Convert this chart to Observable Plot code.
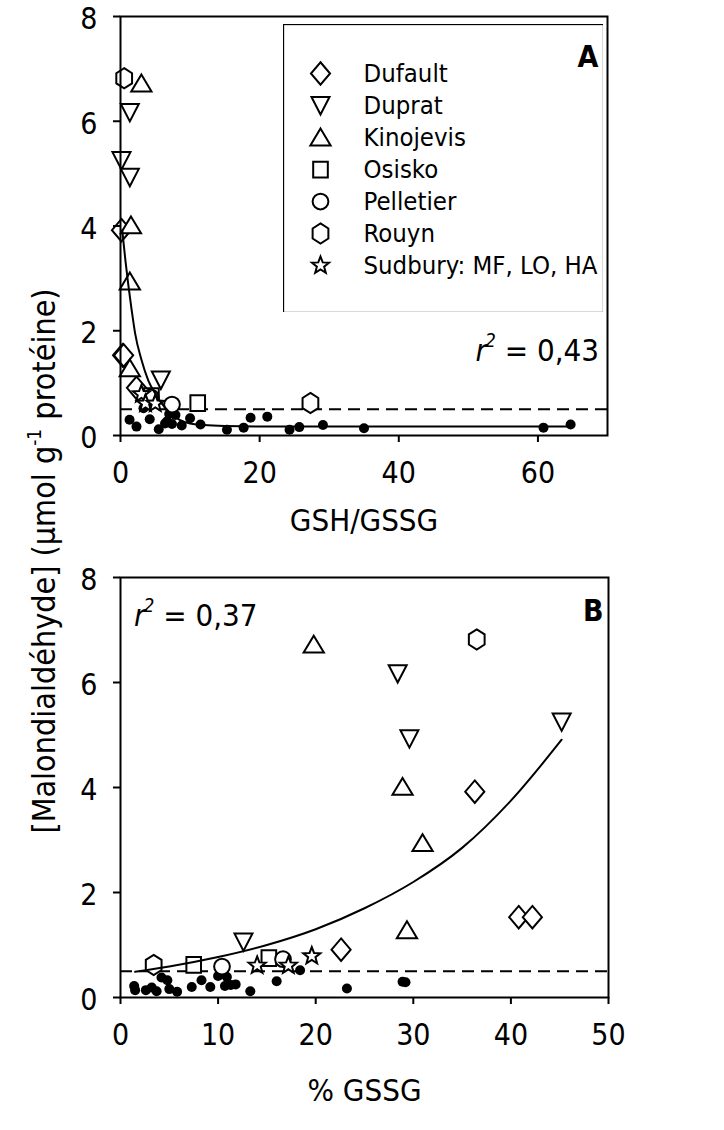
<!DOCTYPE html>
<html><head><meta charset="utf-8">
<script src="https://cdn.jsdelivr.net/npm/d3@7"></script>
<script src="https://cdn.jsdelivr.net/npm/@observablehq/plot@0.6"></script>
<style>
body{margin:0;background:#fff}
#root{position:relative;width:724px;height:1130px;overflow:hidden}
#root > svg{position:absolute}
</style>
</head><body><div id="root"></div>
<script>
// ---------- data ----------
const SITES = ["Dufault","Duprat","Kinojevis","Osisko","Pelletier","Rouyn","Sudbury: MF, LO, HA"];

// MDA (µmol g-1 protéine), GSH/GSSG ratio and % GSSG for each sample of each site
const DUFAULT_MDA   = [3.92, 1.53, 1.53, 0.91];
const DUFAULT_GSH   = [0.14, 0.30, 0.45, 2.3];
const DUFAULT_PCT   = [36.3, 40.8, 42.2, 22.6];

const DUPRAT_MDA    = [6.17, 5.25, 4.93, 1.06];
const DUPRAT_GSH    = [1.34, 0.14, 1.34, 5.8];
const DUPRAT_PCT    = [28.4, 45.2, 29.6, 12.6];

const KINOJEVIS_MDA = [6.72, 4.01, 2.94, 1.28];
const KINOJEVIS_GSH = [3.0, 1.5, 1.34, 1.34];
const KINOJEVIS_PCT = [19.8, 28.9, 30.95, 29.35];

const OSISKO_MDA    = [0.62, 0.75];
const OSISKO_GSH    = [11.1, 4.45];
const OSISKO_PCT    = [7.5, 15.2];

const PELLETIER_MDA = [0.59, 0.73];
const PELLETIER_GSH = [7.4, 4.35];
const PELLETIER_PCT = [10.4, 16.65];

const ROUYN_MDA     = [6.82, 0.62];
const ROUYN_GSH     = [0.53, 27.3];
const ROUYN_PCT     = [36.5, 3.4];

const SUDBURY_MDA   = [0.79, 0.61, 0.61];
const SUDBURY_GSH   = [3.0, 3.6, 5.0];
const SUDBURY_PCT   = [19.6, 14.0, 17.2];

// reference (filled) samples
const REF_A_X = [1.3, 2.3, 3.3, 4.2, 5.5, 6.4, 6.7, 7.0, 7.4, 7.9, 8.8, 10.0, 11.5, 15.3, 17.7, 18.7, 21.1, 24.3, 25.7, 29.1, 35.0, 60.8, 64.7];
const REF_A_Y = [0.30, 0.17, 0.52, 0.31, 0.12, 0.23, 0.27, 0.41, 0.22, 0.39, 0.19, 0.33, 0.21, 0.11, 0.15, 0.34, 0.36, 0.11, 0.16, 0.20, 0.14, 0.15, 0.21];
const REF_B_X = [1.4, 1.5, 2.6, 3.2, 3.7, 4.2, 4.8, 5.0, 5.8, 7.3, 8.3, 9.2, 10.0, 10.7, 10.9, 11.3, 11.8, 13.3, 16.0, 18.4, 23.2, 28.9, 29.2];
const REF_B_Y = [0.22, 0.14, 0.14, 0.19, 0.12, 0.38, 0.33, 0.16, 0.11, 0.20, 0.33, 0.20, 0.41, 0.22, 0.39, 0.24, 0.25, 0.12, 0.31, 0.52, 0.17, 0.30, 0.29];

// fitted curves
const FIT_A_X = [0.25, 0.7, 1.1, 1.6, 2.1, 3.0, 4.0, 5.0, 6.0, 7.0, 8.5, 10, 12, 15, 20, 30, 45, 64.7];
const FIT_A_Y = [3.92, 3.35, 2.9, 2.4, 1.95, 1.45, 1.05, 0.8, 0.6, 0.45, 0.3, 0.23, 0.2, 0.18, 0.17, 0.17, 0.17, 0.17];
const FIT_B_X = [1.5, 5, 10, 15, 20, 25, 30, 35, 40, 45.2];
const FIT_B_Y = [0.49, 0.59, 0.77, 1.0, 1.3, 1.7, 2.2, 2.85, 3.75, 4.91];

const THRESHOLD = [0.5];
const R2_A = "0,43", R2_B = "0,37";
const X_TICKS_A = [0, 20, 40, 60], X_TICKS_B = [0, 10, 20, 30, 40, 50], Y_TICKS = [0, 2, 4, 6, 8];

// ---------- build tables ----------
const MDA_L = [DUFAULT_MDA, DUPRAT_MDA, KINOJEVIS_MDA, OSISKO_MDA, PELLETIER_MDA, ROUYN_MDA, SUDBURY_MDA];
const GSH_L = [DUFAULT_GSH, DUPRAT_GSH, KINOJEVIS_GSH, OSISKO_GSH, PELLETIER_GSH, ROUYN_GSH, SUDBURY_GSH];
const PCT_L = [DUFAULT_PCT, DUPRAT_PCT, KINOJEVIS_PCT, OSISKO_PCT, PELLETIER_PCT, ROUYN_PCT, SUDBURY_PCT];
const rows = SITES.flatMap((site, i) => MDA_L[i].map((mda, j) => ({site, mda, gsh: GSH_L[i][j], pct: PCT_L[i][j]})));
const refA = REF_A_X.map((x, i) => ({x, y: REF_A_Y[i]}));
const refB = REF_B_X.map((x, i) => ({x, y: REF_B_Y[i]}));
const fitA = FIT_A_X.map((x, i) => ({x, y: FIT_A_Y[i]}));
const fitB = FIT_B_X.map((x, i) => ({x, y: FIT_B_Y[i]}));

// ---------- symbols ----------
function poly(pts) {
  return {draw(ctx, size) {
    const k = Math.sqrt(size / Math.PI) / 8;
    ctx.moveTo(pts[0][0] * k, pts[0][1] * k);
    for (let i = 1; i < pts.length; i++) ctx.lineTo(pts[i][0] * k, pts[i][1] * k);
    ctx.closePath();
  }};
}
const symDiamond = poly([[0,-10],[8.5,0],[0,10],[-8.5,0]]);
const symTriDown = poly([[-8,-7.5],[8,-7.5],[0,8]]);
const symTriUp   = poly([[0,-8],[9,7],[-9,7]]);
const symSquare  = poly([[-6.5,-7],[6.5,-7],[6.5,7],[-6.5,7]]);
const symCircle  = {draw(ctx, size) { const r = Math.sqrt(size / Math.PI) * 7 / 8; ctx.moveTo(r, 0); ctx.arc(0, 0, r, 0, 2 * Math.PI); ctx.closePath(); }};
const symHexagon = poly([[0,-9],[7,-4.5],[7,4.5],[0,9],[-7,4.5],[-7,-4.5]]);
const starPts = d3.range(10).map(i => { const a = -Math.PI / 2 + i * Math.PI / 5, r = i % 2 ? 3.4 : 8; return [r * Math.cos(a), r * Math.sin(a)]; });
const symStar = poly(starPts);
const SYMBOLS = [symDiamond, symTriDown, symTriUp, symSquare, symCircle, symHexagon, symStar];

const FONT = "'DejaVu Sans Condensed', 'DejaVu Sans', sans-serif";
const TICK_FS = 30;
const MARK_R = 9;

function siteDots(xKey) {
  return SITES.map((s, i) => Plot.dot(rows.filter(r => r.site === s), {
    x: xKey, y: "mda", symbol: SYMBOLS[i], r: MARK_R, fill: "white", stroke: "black", strokeWidth: 2
  }));
}

function panel({xDomain, xTicks, xKey, ref, fit, label, letter, letterDx, letterDy, top, height, mt, mb, mr, labelDy}) {
  const svg = Plot.plot({
    width: 724, height, marginLeft: 120, marginRight: mr, marginTop: mt, marginBottom: mb,
    style: {fontFamily: FONT, color: "black", background: "transparent", overflow: "visible"},
    x: {domain: xDomain}, y: {domain: [0, 8]},
    marks: [
      Plot.ruleY(THRESHOLD, {stroke: "black", strokeWidth: 2, strokeDasharray: "12,7"}),
      Plot.dot(ref, {x: "x", y: "y", r: 5, fill: "black"}),
      ...siteDots(xKey),
      Plot.line(fit, {x: "x", y: "y", curve: "monotone-x", stroke: "black", strokeWidth: 2}),
      Plot.frame({stroke: "black", strokeWidth: 2}),
      Plot.axisX({ticks: xTicks, tickSize: 7, tickPadding: 19, fontSize: TICK_FS, strokeWidth: 2, label: null}),
      // y ticks (lines only) and y tick labels (nudged slightly down, as in the reference)
      Plot.axisY({ticks: Y_TICKS, tickSize: 7, strokeWidth: 2, text: null, label: null}),
      Plot.axisY({ticks: Y_TICKS, tickSize: 0, tickPadding: 23, fontSize: TICK_FS, label: null, dy: 3}),
      Plot.text([label], {frameAnchor: "bottom", dy: labelDy, lineAnchor: "middle", fontSize: 31, fill: "black"}),
      Plot.text([letter], {frameAnchor: "top-right", dx: letterDx, dy: letterDy, lineAnchor: "top", textAnchor: "end", fontSize: 30, fontWeight: "bold", fill: "black"})
    ]
  });
  svg.style.left = "0px"; svg.style.top = top + "px";
  return svg;
}

const root = document.getElementById("root");
const svgA = panel({xDomain: [0, 70], xTicks: X_TICKS_A, xKey: "gsh", ref: refA, fit: fitA, label: "GSH/GSSG", letter: "A",
  letterDx: -9, letterDy: 29, top: 0, height: 545, mt: 16, mb: 110, mr: 117, labelDy: 86});
const svgB = panel({xDomain: [0, 50], xTicks: X_TICKS_B, xKey: "pct", ref: refB, fit: fitB, label: "% GSSG", letter: "B",
  letterDx: -5, letterDy: 22, top: 545, height: 585, mt: 32, mb: 133, mr: 116, labelDy: 94});
root.appendChild(svgA); root.appendChild(svgB);

function r2(svg, x, y, anchor, val) {
  const t = d3.select(svg).append("text").attr("x", x).attr("y", y).attr("text-anchor", anchor)
    .attr("font-family", FONT).attr("font-size", 31).attr("fill", "black");
  t.append("tspan").attr("font-style", "italic").text("r");
  t.append("tspan").attr("font-style", "italic").attr("font-size", 19).attr("dy", -14).attr("dx", -2).text("2");
  t.append("tspan").attr("dy", 14).text(" = " + val);
}
r2(svgA, 599, 361, "end", R2_A);
r2(svgB, 134, 81, "start", R2_B);

// legend (its own Plot with an ordinal scale)
const legend = Plot.plot({
  width: 320, height: 288, margin: 0,
  style: {fontFamily: FONT, color: "black", background: "transparent"},
  y: {type: "point", domain: SITES, range: [31, 259], axis: null},
  marks: [
    Plot.frame({stroke: "black", strokeWidth: 1.3}),
    ...SITES.map((s, i) => Plot.dot([s], {y: d => d, frameAnchor: "left", dx: 37, symbol: SYMBOLS[i], r: MARK_R, fill: "white", stroke: "black", strokeWidth: 2})),
    Plot.text(SITES, {y: d => d, frameAnchor: "left", dx: 80, textAnchor: "start", fontSize: 25.5, fill: "black"})
  ]
});
legend.style.left = "283px"; legend.style.top = "24px";
root.appendChild(legend);

// shared y-axis title
const ov = d3.select(root).append("svg").attr("width", 90).attr("height", 1130).style("left", "0px").style("top", "0px");
const yt = ov.append("text").attr("transform", "translate(55,561) rotate(-90)").attr("text-anchor", "middle")
  .attr("font-family", FONT).attr("font-size", 32).attr("fill", "black");
yt.append("tspan").text("[Malondialdéhyde] (µmol g");
yt.append("tspan").attr("font-size", 19).attr("dy", -14).text("-1");
yt.append("tspan").attr("dy", 14).text(" protéine)");
</script>
</body></html>
